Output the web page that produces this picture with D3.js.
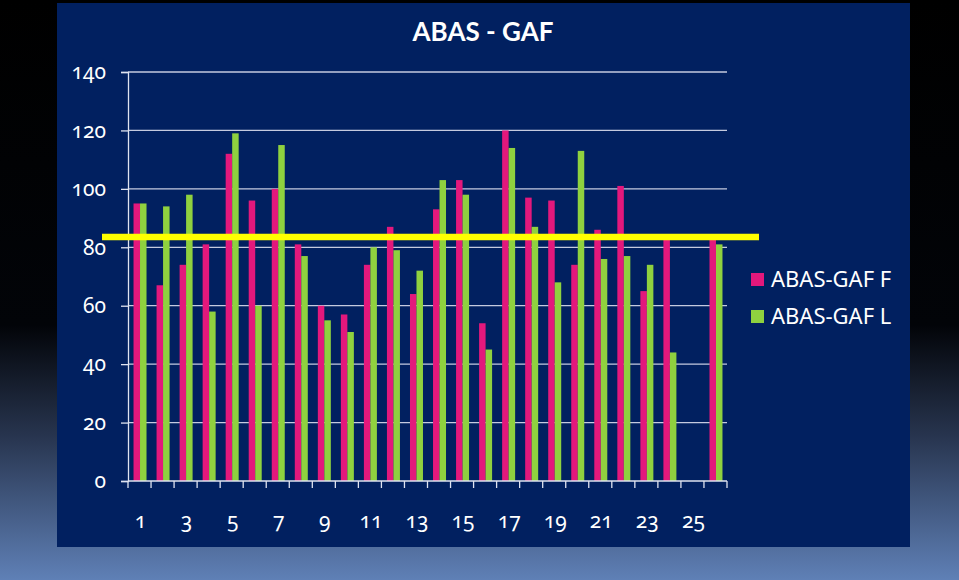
<!DOCTYPE html>
<html><head><meta charset="utf-8">
<script src="https://cdn.jsdelivr.net/npm/d3@7"></script>
<style>
html,body{margin:0;padding:0;overflow:hidden;}
svg{display:block;font-family:Lato,"Noto Sans",sans-serif;}
.num{font-family:"Noto Sans",sans-serif;font-variant-numeric:oldstyle-nums;font-feature-settings:"onum" 1;}
</style></head>
<body>
<script>
const categories = d3.range(1, 27).map(String);
const seriesNames = ["ABAS-GAF F", "ABAS-GAF L"];
const valuesF = [95,67,74,81,112,96,100,81,60,57,74,87,64,93,103,54,120,97,96,74,86,101,65,83,null,83];
const valuesL = [95,94,98,58,119,60,115,77,55,51,80,79,72,103,98,45,114,87,68,113,76,77,74,44,null,81];
const yTicks = [0,20,40,60,80,100,120,140];
const xTickLabels = categories.filter((d,i)=> i % 2 === 0);
const thresholdValue = 83.5;
const colors = ["#e3187c", "#8fd13f"];

const W = 959, H = 580;
const svg = d3.select("body").append("svg").attr("width", W).attr("height", H);
const defs = svg.append("defs");
const g = defs.append("linearGradient").attr("id","bg").attr("x1",0).attr("y1",0).attr("x2",0).attr("y2",1);
g.append("stop").attr("offset","0%").attr("stop-color","#000000");
g.append("stop").attr("offset","56%").attr("stop-color","#020408");
g.append("stop").attr("offset","75%").attr("stop-color","#27344e");
g.append("stop").attr("offset","100%").attr("stop-color","#5f80b6");
svg.append("rect").attr("width",W).attr("height",H).attr("fill","url(#bg)");
svg.append("rect").attr("x",57).attr("y",3).attr("width",853).attr("height",544).attr("fill","#012060");

svg.append("text").attr("x",483).attr("y",41).attr("text-anchor","middle")
  .attr("fill","#fff").attr("font-size",26).attr("font-weight","bold").text("ABAS - GAF");

const plot = {left:128, right:727, top:72, bottom:481};
const x = d3.scaleBand().domain(categories).range([plot.left, plot.right]).paddingInner(0).paddingOuter(0);
const y = d3.scaleLinear().domain([0,140]).range([plot.bottom, plot.top]);
const barW = 6.5;
const xs = d3.scaleBand().domain([0,1]).range([0, barW*2]);

// gridlines
svg.append("g").selectAll("line").data(yTicks.filter(d=>d>0)).join("line")
  .attr("x1", plot.left).attr("x2", plot.right)
  .attr("y1", d=>y(d)).attr("y2", d=>y(d))
  .attr("stroke","#c5cadf").attr("stroke-width",1.3);

// y axis
const yAxis = svg.append("g").attr("transform",`translate(${plot.left},0)`)
  .call(d3.axisLeft(y).tickValues(yTicks).tickSize(7).tickPadding(15).tickFormat(d3.format("d")));
yAxis.select(".domain").attr("stroke","#dfe3f0").attr("stroke-width",1.3);
yAxis.selectAll(".tick line").attr("stroke","#dfe3f0").attr("stroke-width",1.3);
yAxis.selectAll("text").attr("fill","#fff").attr("font-size",21).attr("class","num")
  .attr("font-family",null);

// bars
const groups = svg.append("g").selectAll("g").data(categories).join("g")
  .attr("transform", d=>`translate(${x(d) + (x.bandwidth()-barW*2)/2 + 0.5},0)`);
[valuesF, valuesL].forEach((vals, si) => {
  groups.filter((d,i)=>vals[i] != null).append("rect")
    .attr("x", xs(si)).attr("width", barW)
    .attr("y", (d)=> y(vals[categories.indexOf(d)]))
    .attr("height", (d)=> y(0) - y(vals[categories.indexOf(d)]))
    .attr("fill", colors[si]);
});

// x axis
const xAxis = svg.append("g").attr("transform",`translate(0,${plot.bottom})`);
xAxis.append("line").attr("x1",plot.left).attr("x2",plot.right).attr("stroke","#dfe3f0").attr("stroke-width",1.3);
const bounds = categories.map(c=>x(c)).concat([x(categories[categories.length-1])+x.bandwidth()]);
xAxis.selectAll("line.tk").data(bounds).join("line").attr("class","tk")
  .attr("x1",d=>d).attr("x2",d=>d).attr("y1",0).attr("y2",7)
  .attr("stroke","#dfe3f0").attr("stroke-width",1.3);
xAxis.selectAll("text").data(xTickLabels).join("text").attr("class","num")
  .attr("x", d=> x(d) + x.bandwidth()/2 + 1)
  .attr("y", 47).attr("text-anchor","middle").attr("fill","#fff").attr("font-size",21)
  .text(d=>d);

// threshold line
svg.append("line").attr("x1",102).attr("x2",759)
  .attr("y1",y(thresholdValue)).attr("y2",y(thresholdValue))
  .attr("stroke","#ffff00").attr("stroke-width",6.5);

// legend
const leg = svg.append("g").selectAll("g").data(seriesNames).join("g")
  .attr("transform",(d,i)=>`translate(751,${273 + i*37})`);
leg.append("rect").attr("width",13).attr("height",13).attr("fill",(d,i)=>colors[i]);
leg.append("text").attr("x",20).attr("y",13.5).attr("fill","#fff").attr("font-size",22)
  .attr("font-family","'Noto Sans',sans-serif").text(d=>d);
</script>
</body></html>
